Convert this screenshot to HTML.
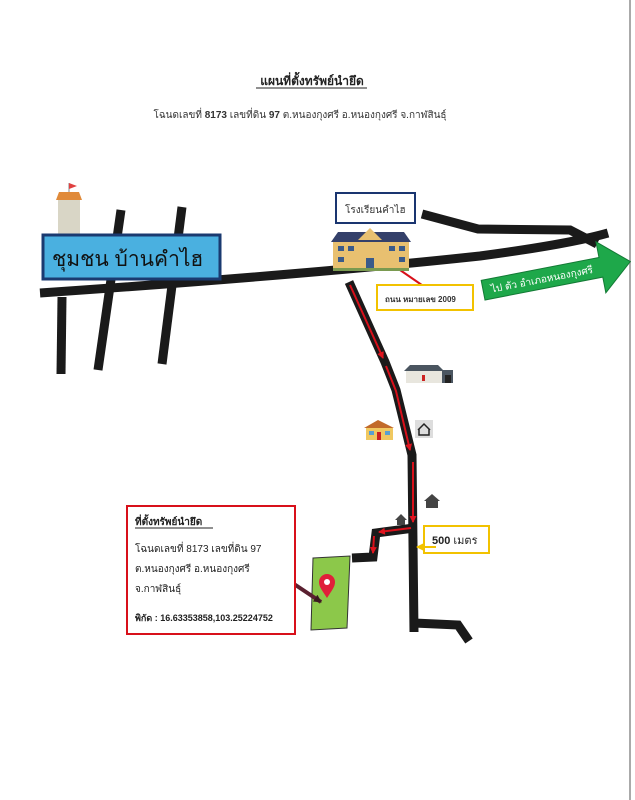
<!DOCTYPE html>
<html><head><meta charset="utf-8"><style>
html,body{margin:0;padding:0;background:#fff;}
svg{display:block;font-family:"Liberation Sans","Noto Sans CJK SC",sans-serif;}
</style></head><body>
<svg width="635" height="800" viewBox="0 0 635 800" xmlns="http://www.w3.org/2000/svg">
<defs>
<marker id="ar" markerUnits="userSpaceOnUse" markerWidth="7" markerHeight="7" refX="6" refY="3.5" orient="auto"><path d="M0,0 L7,3.5 L0,7 z" fill="#e0141e"/></marker>
<marker id="ay" markerUnits="userSpaceOnUse" markerWidth="8" markerHeight="8" refX="7" refY="4" orient="auto"><path d="M0,0 L8,4 L0,8 z" fill="#f2c200"/></marker>
<marker id="ad" markerUnits="userSpaceOnUse" markerWidth="8" markerHeight="8" refX="7" refY="4" orient="auto"><path d="M0,0 L8,4 L0,8 z" fill="#3a1a20"/></marker>
</defs>
<line x1="630" y1="0" x2="630" y2="800" stroke="#aaa" stroke-width="2"/>
<text x="312" y="85" font-size="12" font-weight="bold" text-anchor="middle" fill="#222">แผนที่ตั้งทรัพย์นำยึด</text>
<line x1="256" y1="88" x2="367" y2="88" stroke="#222" stroke-width="1"/>
<text x="300" y="118" font-size="10" text-anchor="middle" fill="#333">โฉนดเลขที่ <tspan font-weight="bold">8173</tspan> เลขที่ดิน <tspan font-weight="bold">97</tspan> ต.หนองกุงศรี  อ.หนองกุงศรี  จ.กาฬสินธุ์</text>

<g stroke="#1a1a1a" stroke-width="9" fill="none" stroke-linecap="butt">
<path d="M40,293 C200,282 350,270 480,256 C540,248 580,241 608,233"/>
<path d="M422,214 L478,229 L570,230 L597,244"/>
<line x1="62" y1="297" x2="61" y2="374"/>
<line x1="121" y1="210" x2="98" y2="370"/>
<line x1="182" y1="207" x2="162" y2="364"/>
<path d="M349,282 L385,362 L396,390 L412,455 L414,632"/>
<path d="M414,623 L458,625 L469,641"/>
<path d="M414,528 L376,533 L373,557 L352,558"/>
</g>
<g stroke="#d8101a" stroke-width="2" fill="none">
<path d="M350,285 L383,358" marker-end="url(#ar)"/>
<path d="M386,366 L396,391 L410,450" marker-end="url(#ar)"/>
<path d="M413,462 L413,522" marker-end="url(#ar)"/>
<path d="M411,528 L379,532" marker-end="url(#ar)"/>
<path d="M374,536 L373,553" marker-end="url(#ar)"/>
<path d="M350,559 L330,562" marker-end="url(#ar)"/>
<line x1="400" y1="270" x2="432" y2="292"/>
</g>

<!-- tower -->
<rect x="58" y="200" width="22" height="36" fill="#d9d6c6"/>
<path d="M56,200 L82,200 L79,192 L59,192 z" fill="#e08a3a"/>
<line x1="69" y1="192" x2="69" y2="183" stroke="#888"/>
<path d="M69,183 L77,186 L69,189 z" fill="#e04040"/>

<rect x="43" y="235" width="177" height="44" fill="#4ab0e0" stroke="#1a3a70" stroke-width="3"/>
<text x="52" y="266" font-size="21" fill="#111">ชุมชน บ้านคำไฮ</text>

<rect x="336" y="193" width="79" height="30" fill="#fff" stroke="#1a3570" stroke-width="2"/>
<text x="345" y="213" font-size="10" fill="#333">โรงเรียนคำไฮ</text>

<!-- school -->
<rect x="333" y="240" width="76" height="30" fill="#e8c070"/>
<path d="M331,242 L338,232 L404,232 L411,242 z" fill="#34406a"/>
<path d="M358,240 L370,228 L382,240 z" fill="#e8c070"/>
<g fill="#3a5a8a"><rect x="338" y="246" width="6" height="5"/><rect x="348" y="246" width="6" height="5"/><rect x="389" y="246" width="6" height="5"/><rect x="399" y="246" width="6" height="5"/><rect x="338" y="257" width="6" height="5"/><rect x="399" y="257" width="6" height="5"/><rect x="366" y="258" width="8" height="10"/></g>
<rect x="333" y="268" width="76" height="3" fill="#7a9a50"/>

<rect x="377" y="285" width="96" height="25" fill="#fff" stroke="#f2c200" stroke-width="2"/>
<text x="385" y="302" font-size="8" font-weight="bold" fill="#333">ถนน หมายเลข 2009</text>

<!-- green arrow -->
<g transform="translate(485,300) rotate(-11)">
<polygon points="0,-20 120,-20 120,-36 150,-10 120,16 120,0 0,0" fill="#1ea84a" stroke="#137a35" stroke-width="1"/>
<text x="8" y="-6" font-size="10" fill="#fff">ไป ตัว อำเภอหนองกุงศรี</text>
</g>

<!-- houses -->
<g transform="translate(404,363)">
<path d="M0,8 L6,2 L34,2 L40,8 z" fill="#4a5560"/>
<rect x="2" y="8" width="46" height="12" fill="#e8e6de"/>
<rect x="38" y="7" width="11" height="13" fill="#4a5560"/><rect x="41" y="12" width="6" height="8" fill="#222"/>
<rect x="18" y="12" width="3" height="6" fill="#c22"/>
</g>
<g transform="translate(364,420)">
<path d="M0,8 L14,0 L30,8 z" fill="#c26a2a"/>
<rect x="2" y="8" width="27" height="12" fill="#f0c860"/>
<rect x="5" y="11" width="5" height="4" fill="#5aa0d0"/><rect x="21" y="11" width="5" height="4" fill="#5aa0d0"/><rect x="13" y="12" width="4" height="8" fill="#c22"/>
</g>
<rect x="415" y="420" width="18" height="18" fill="#ddd"/>
<path d="M418,430 L424,424 L430,430 M419,429 L419,435 L429,435 L429,429" stroke="#222" stroke-width="1.5" fill="none"/>
<path d="M424,501 L432,494 L440,501 L438,501 L438,508 L426,508 L426,501 z" fill="#444"/>
<path d="M395,520 L401,514 L407,520 L405,520 L405,525 L397,525 L397,520 z" fill="#444"/>

<rect x="424" y="526" width="65" height="27" fill="#fff" stroke="#f2c200" stroke-width="2"/>
<text x="432" y="544" font-size="11" fill="#222"><tspan font-weight="bold">500</tspan> เมตร</text>
<line x1="436" y1="547" x2="417" y2="547" stroke="#f2c200" stroke-width="2" marker-end="url(#ay)"/>

<!-- plot -->
<polygon points="313,558 350,556 347,628 311,630" fill="#8cc84a" stroke="#333" stroke-width="1"/>
<path d="M327,598 C322,590 319,587 319,582 A8,8 0 0 1 335,582 C335,587 332,590 327,598 z" fill="#e0203a"/>
<circle cx="327" cy="582" r="3" fill="#fff"/>
<line x1="288" y1="580" x2="321" y2="602" stroke="#5a2030" stroke-width="4" marker-end="url(#ad)"/>

<rect x="127" y="506" width="168" height="128" fill="#fff" stroke="#d8101a" stroke-width="2"/>
<text x="135" y="525" font-size="10" font-weight="bold" fill="#222">ที่ตั้งทรัพย์นำยึด</text>
<line x1="135" y1="528" x2="213" y2="528" stroke="#222"/>
<text x="135" y="552" font-size="10" fill="#222">โฉนดเลขที่ 8173 เลขที่ดิน 97</text>
<text x="135" y="572" font-size="10" fill="#222">ต.หนองกุงศรี   อ.หนองกุงศรี</text>
<text x="135" y="592" font-size="10" fill="#222">จ.กาฬสินธุ์</text>
<text x="135" y="621" font-size="9" font-weight="bold" fill="#222">พิกัด : 16.63353858,103.25224752</text>
</svg>
</body></html>
